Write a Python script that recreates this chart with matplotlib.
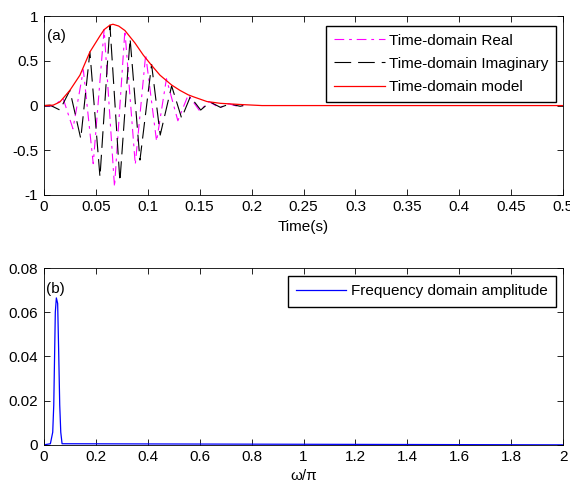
import matplotlib
matplotlib.use('Agg')
import matplotlib.pyplot as plt

plt.rcParams['font.family'] = ['Liberation Sans', 'DejaVu Sans']
plt.rcParams['font.size'] = 11
plt.rcParams['lines.scale_dashes'] = False

# envelope (time-domain model)
env_t = [0, 0.009, 0.0154, 0.025, 0.0347, 0.0443, 0.054, 0.058, 0.0636, 0.0665, 0.072,
         0.078, 0.0877, 0.0957, 0.1037, 0.1118, 0.123, 0.131, 0.139, 0.144, 0.157,
         0.170, 0.189, 0.21, 0.5]
env_v = [0, 0.005, 0.04, 0.17, 0.34, 0.60, 0.78, 0.85, 0.90, 0.91, 0.89,
         0.84, 0.70, 0.565, 0.45, 0.34, 0.23, 0.17, 0.12, 0.098, 0.045,
         0.025, 0.012, 0.0, 0.0]

# real part, turning points
re_t = [0, 0.009, 0.0185, 0.028, 0.038, 0.0475, 0.058, 0.068, 0.078, 0.088, 0.098,
        0.1085, 0.118, 0.129, 0.139, 0.150, 0.159, 0.169, 0.178, 0.187, 0.192]
re_v = [0, -0.005, 0.08, -0.26, 0.40, -0.65, 0.85, -0.91, 0.84, -0.66, 0.57,
        -0.40, 0.30, -0.17, 0.12, -0.06, 0.045, -0.025, 0.02, -0.01, 0]

# imaginary part, turning points
im_t = [0, 0.006, 0.0154, 0.025, 0.0355, 0.0443, 0.054, 0.0636, 0.0732, 0.083, 0.0925,
        0.1037, 0.112, 0.123, 0.1326, 0.141, 0.151, 0.160, 0.170, 0.179, 0.189, 0.192]
im_v = [0, 0.004, -0.05, 0.17, -0.37, 0.60, -0.80, 0.90, -0.85, 0.75, -0.61,
        0.46, -0.33, 0.22, -0.14, 0.10, -0.05, 0.04, -0.02, 0.018, -0.008, 0]

# frequency domain amplitude
fr_w = [0, 0.025, 0.034, 0.038, 0.044, 0.048, 0.053, 0.057, 0.061, 0.065, 0.070, 2.0]
fr_a = [0, 0.0005, 0.0057, 0.018, 0.060, 0.0665, 0.064, 0.042, 0.018, 0.0057, 0.0005, 0]

t_ticks = [0, 0.05, 0.1, 0.15, 0.2, 0.25, 0.3, 0.35, 0.4, 0.45, 0.5]
t_labels = ['0', '0.05', '0.1', '0.15', '0.2', '0.25', '0.3', '0.35', '0.4', '0.45', '0.5']
w_ticks = [0, 0.2, 0.4, 0.6, 0.8, 1, 1.2, 1.4, 1.6, 1.8, 2]
w_labels = ['0', '0.2', '0.4', '0.6', '0.8', '1', '1.2', '1.4', '1.6', '1.8', '2']

fig = plt.figure(figsize=(5.7, 4.91), dpi=100)

ax1 = fig.add_axes([0.077, 0.603, 0.911, 0.364])
ax1.plot(re_t, re_v, color='#ff00ff', lw=0.8, dashes=(7, 3.5, 2, 3.5), label='Time-domain Real')
ax1.plot(im_t, im_v, color='black', lw=0.8, dashes=(12, 5), label='Time-domain Imaginary')
ax1.plot(env_t, env_v, color='red', lw=0.9, label='Time-domain model')
ax1.set_xlim(0, 0.5)
ax1.set_ylim(-1, 1)
ax1.set_xticks(t_ticks)
ax1.set_xticklabels(t_labels)
ax1.set_yticks([-1, -0.5, 0, 0.5, 1])
ax1.set_yticklabels(['-1', '-0.5', '0', '0.5', '1'])
ax1.set_xlabel('Time(s)', labelpad=4)
ax1.text(0.012, 0.78, '(a)', ha='center', va='center')
ax1.legend(loc='upper right', bbox_to_anchor=(0.9865, 0.945), fancybox=False,
           edgecolor='black', framealpha=1, borderaxespad=0, handlelength=3.3,
           handletextpad=0.3, labelspacing=0.6, borderpad=0.5, fontsize=11)

ax2 = fig.add_axes([0.077, 0.094, 0.911, 0.36])
ax2.plot(fr_w, fr_a, color='blue', lw=0.9, label='Frequency domain amplitude')
ax2.set_xlim(0, 2)
ax2.set_ylim(0, 0.08)
ax2.set_xticks(w_ticks)
ax2.set_xticklabels(w_labels)
ax2.set_yticks([0, 0.02, 0.04, 0.06, 0.08])
ax2.set_yticklabels(['0', '0.02', '0.04', '0.06', '0.08'])
ax2.set_xlabel('ω/π', labelpad=3)
ax2.text(0.043, 0.0705, '(b)', ha='center', va='center')
ax2.legend(loc='upper right', bbox_to_anchor=(0.9865, 0.955), fancybox=False,
           edgecolor='black', framealpha=1, borderaxespad=0, handlelength=3.3,
           handletextpad=0.3, borderpad=0.55, fontsize=11)

for ax in (ax1, ax2):
    ax.tick_params(direction='in', top=True, right=True, length=4, width=0.6, pad=4)
    for s in ax.spines.values():
        s.set_linewidth(0.6)

fig.savefig('out.png', dpi=100)
